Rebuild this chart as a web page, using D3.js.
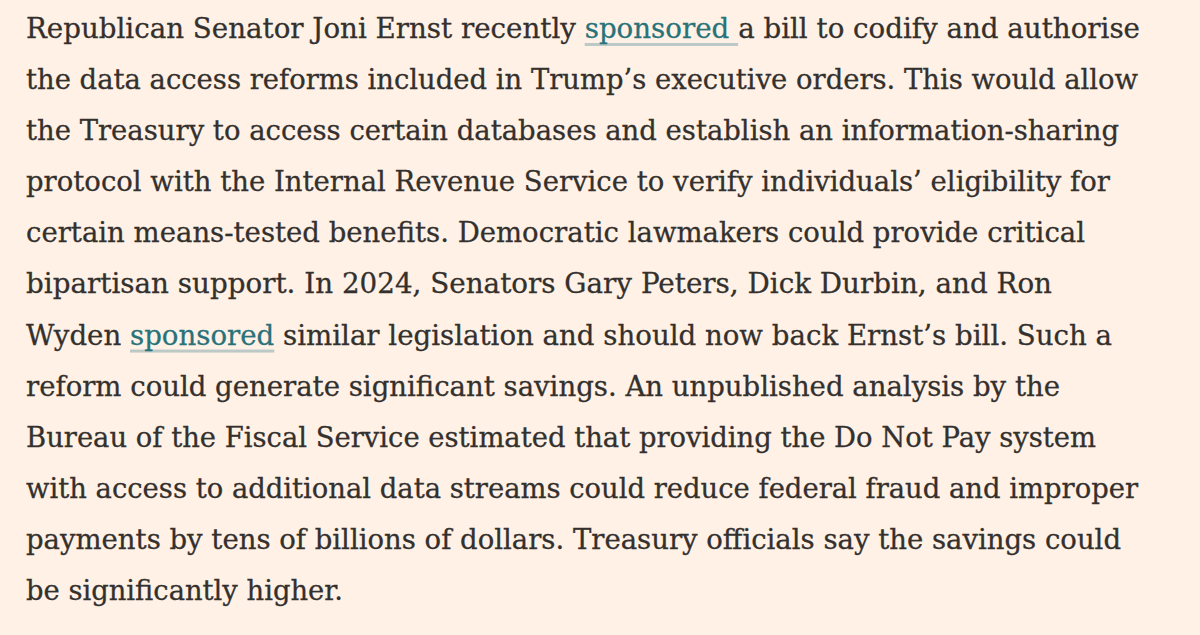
<!DOCTYPE html>
<html>
<head>
<meta charset="utf-8">
<script src="https://cdn.jsdelivr.net/npm/d3@7"></script>
<style>
  html, body { margin: 0; padding: 0; background: #fff1e5; }
  svg { display: block; }
</style>
</head>
<body>
<svg id="page" width="1200" height="635"></svg>
<script>
// text of the paragraph, one entry per rendered line
var lines = [
    "Republican Senator Joni Ernst recently sponsored a bill to codify and authorise",
    "the data access reforms included in Trump\u2019s executive orders. This would allow",
    "the Treasury to access certain databases and establish an information-sharing",
    "protocol with the Internal Revenue Service to verify individuals\u2019 eligibility for",
    "certain means-tested benefits. Democratic lawmakers could provide critical",
    "bipartisan support. In 2024, Senators Gary Peters, Dick Durbin, and Ron",
    "Wyden sponsored similar legislation and should now back Ernst\u2019s bill. Such a",
    "reform could generate significant savings. An unpublished analysis by the",
    "Bureau of the Fiscal Service estimated that providing the Do Not Pay system",
    "with access to additional data streams could reduce federal fraud and improper",
    "payments by tens of billions of dollars. Treasury officials say the savings could",
    "be significantly higher."
];

// right edge of each line
var lineEnds = [1140, 1138, 1119, 1110, 1085, 1052, 1112, 1060, 1096, 1138, 1121, 343];

// linked words: line index, word, whether the trailing space is part of the link
var links = [
    { line: 0, word: "sponsored", trailingSpace: true },
    { line: 6, word: "sponsored", trailingSpace: false }
];

var svg = d3.select("#page");

var x0 = 26;
var y = d3.scaleLinear()
    .domain([0, lines.length - 1])
    .range([38, 600]);

svg.append("rect")
    .attr("width", 1200)
    .attr("height", 635)
    .attr("fill", "#fff1e5");

var gUnder = svg.append("g").attr("class", "underlines");
var gText = svg.append("g").attr("class", "lines");

var text = gText.selectAll("text.line")
    .data(lines)
    .enter()
    .append("text")
    .classed("line", true)
    .attr("x", x0)
    .attr("y", function(d, i) { return y(i); })
    .attr("font-family", "'DejaVu Serif', Georgia, serif")
    .attr("font-size", 28)
    .attr("fill", "#33302e")
    .attr("stroke", "#33302e")
    .attr("stroke-width", 0.3)
    .attr("textLength", function(d, i) { return lineEnds[i] - x0; })
    .attr("lengthAdjust", "spacingAndGlyphs");

// split each line into plain and linked parts
text.each(function(d, i) {
    var el = d3.select(this);
    var link = links.find(function(l) { return l.line === i; });
    if (!link) {
        el.text(d);
        return;
    }
    var at = d.indexOf(link.word);
    el.append("tspan").text(d.slice(0, at));
    el.append("tspan")
        .attr("fill", "#28737a")
        .attr("stroke", "#28737a")
        .text(d.slice(at, at + link.word.length));
    el.append("tspan").text(d.slice(at + link.word.length));

    var node = this;
    var last = at + link.word.length - 1 + (link.trailingSpace ? 1 : 0);
    var xa = node.getStartPositionOfChar(at).x;
    var xb = node.getEndPositionOfChar(last).x;
    gUnder.append("rect")
        .attr("x", xa)
        .attr("y", y(i) + 5)
        .attr("width", xb - xa)
        .attr("height", 3)
        .attr("fill", "#bdc9c6");
});
</script>
</body>
</html>
